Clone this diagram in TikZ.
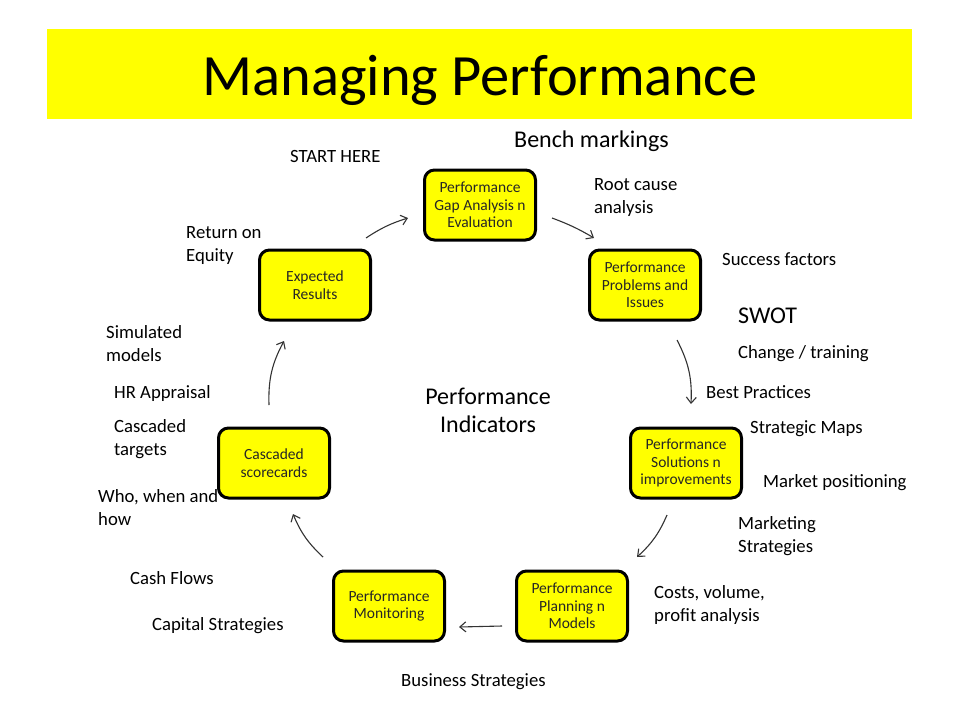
\documentclass[tikz,border=0pt]{standalone}
\usepackage{fontspec}
\setmainfont{Carlito}
\usetikzlibrary{arrows.meta}
\definecolor{bright}{RGB}{255,255,0}
\begin{document}
\begin{tikzpicture}[x=1pt,y=-1pt,
  procbox/.style={draw=black, line width=3pt, fill=bright, rounded corners=10pt,
    minimum width=111pt, minimum height=70pt, align=center, inner sep=0pt,
    font=\fontsize{15.5}{17.5}\selectfont, text=black!85},
  lbl/.style={anchor=base west, align=left, inner sep=0pt, font=\fontsize{18.7}{23}\selectfont},
  biglbl/.style={inner sep=0pt, font=\fontsize{24}{28}\selectfont},
  flow/.style={draw=black!80, line width=1.1pt, -{Straight Barb[length=6pt,width=10pt]}}]
\useasboundingbox (0,0) rectangle (960,720);
\fill[white] (0,0) rectangle (960,720);
% banner
\node[fill=bright, minimum width=865pt, minimum height=90pt, inner sep=0pt] (banner) at (479.5,74) {};
\node[anchor=base, inner sep=0pt, font=\fontsize{58.5}{60}\selectfont] (title) at (480,95) {Managing Performance};
% boxes
\node[procbox] (gap)  at (480,205) {Performance\\Gap Analysis n\\Evaluation};
\node[procbox] (prob) at (645,285) {Performance\\Problems and\\Issues};
\node[procbox] (sol)  at (686,463) {Performance\\Solutions n\\improvements};
\node[procbox] (plan) at (572,606) {Performance\\Planning n\\Models};
\node[procbox] (mon)  at (389,606) {Performance\\Monitoring};
\node[procbox] (casc) at (274,463) {Cascaded\\scorecards};
\node[procbox] (exp)  at (315,285) {Expected\\Results};
% arrow ends
\coordinate (a1s) at (366,238); \coordinate (a1e) at (408,218);
\coordinate (a2s) at (552,218); \coordinate (a2e) at (594,238);
\coordinate (a3s) at (677,340); \coordinate (a3e) at (691,404);
\coordinate (a4s) at (667,515); \coordinate (a4e) at (637,557);
\coordinate (a5s) at (502,626); \coordinate (a5e) at (459,627);
\coordinate (a6s) at (323,557); \coordinate (a6e) at (293,514);
\coordinate (a7s) at (269,405); \coordinate (a7e) at (284,341);
\draw[flow] (a1s) to[bend left=8] (a1e);
\draw[flow] (a2s) to[bend left=5] (a2e);
\draw[flow] (a3s) to[bend left=15] (a3e);
\draw[flow] (a4s) to[bend left=12] (a4e);
\draw[flow] (a5s) -- (a5e);
\draw[flow] (a6s) to[bend left=12] (a6e);
\draw[flow] (a7s) to[bend left=15] (a7e);
% labels (multi-line: base = last line)
\node[biglbl, anchor=base west] (bench) at (514,147) {Bench markings};
\node[biglbl, anchor=base west] (swot) at (738,323) {SWOT};
\node[biglbl, anchor=base, align=center] (pi) at (488,432) {Performance\\Indicators};
\node[lbl] (start) at (290,162) {START HERE};
\node[lbl] (root) at (594,213) {Root cause\\analysis};
\node[lbl] (roe) at (186,261) {Return on\\Equity};
\node[lbl] (succ) at (722,265) {Success factors};
\node[lbl] (chg) at (738,358) {Change / training};
\node[lbl] (sim) at (106,361) {Simulated\\models};
\node[lbl] (hr) at (114,398) {HR Appraisal};
\node[lbl] (best) at (706,398) {Best Practices};
\node[lbl] (ctg) at (114,455) {Cascaded\\targets};
\node[lbl] (smap) at (750,433) {Strategic Maps};
\node[lbl] (mpos) at (763,487) {Market positioning};
\node[lbl] (who) at (98,525) {Who, when and\\how};
\node[lbl] (mkt) at (738,552) {Marketing\\Strategies};
\node[lbl] (cash) at (130,584) {Cash Flows};
\node[lbl] (cost) at (654,621) {Costs, volume,\\profit analysis};
\node[lbl] (cap) at (152,630) {Capital Strategies};
\node[lbl] (bus) at (401,686) {Business Strategies};
\end{tikzpicture}
\end{document}
